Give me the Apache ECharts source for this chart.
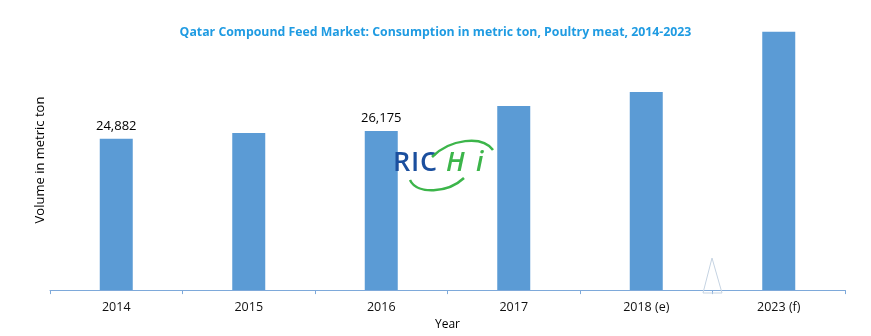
<!DOCTYPE html>
<html>
<head>
<meta charset="utf-8">
<script src="https://cdn.jsdelivr.net/npm/echarts@6/dist/echarts.min.js"></script>
<style>html,body{margin:0;padding:0;background:#fff}#c{width:871px;height:336px}</style>
</head>
<body>
<div id="c"></div>
<script>
const categories = ['2014', '2015', '2016', '2017', '2018 (e)', '2023 (f)'];
const values = [24882, 25820, 26175, 30260, 32590, 42465];
const shownLabels = ['24,882', '', '26,175', '', '', ''];

const chart = echarts.init(document.getElementById('c'));
const font = "'Open Sans', 'Liberation Sans', sans-serif";
const logoFont = "600 27px 'Open Sans'";
const logoFontI = "italic 600 27px 'Open Sans'";
chart.setOption({
  animation: false,
  title: {
    text: 'Qatar Compound Feed Market: Consumption in metric ton, Poultry meat, 2014-2023',
    left: 'center', top: 21,
    textStyle: { color: '#1f9be2', fontSize: 12.3, fontWeight: 'bold', fontFamily: font }
  },
  grid: { left: 50, right: 26, top: 16.4, bottom: 43 },
  xAxis: {
    type: 'category', data: categories,
    name: 'Year', nameLocation: 'middle', nameGap: 24,
    nameTextStyle: { color: '#000', fontSize: 12, fontFamily: font },
    axisLine: { lineStyle: { color: '#7ea9da', width: 1 } },
    axisTick: { show: true, length: 4, lineStyle: { color: '#7ea9da' } },
    axisLabel: { color: '#111', fontSize: 12.5, fontFamily: font, margin: 11 }
  },
  yAxis: {
    type: 'value', min: 0, max: 45000,
    axisLine: { show: false }, axisTick: { show: false },
    axisLabel: { show: false }, splitLine: { show: false }
  },
  series: [{
    type: 'bar', data: values, barWidth: 33,
    itemStyle: { color: '#5b9bd5' },
    label: {
      show: true, position: 'top', distance: 6,
      color: '#000', fontSize: 13, fontFamily: font,
      formatter: p => shownLabels[p.dataIndex]
    }
  }],
  graphic: [
    { type: 'text', x: 40, y: 160, rotation: Math.PI / 2,
      style: { text: 'Volume in metric ton', font: "13px 'Open Sans'", fill: '#000', align: 'center', verticalAlign: 'middle' } },
    { type: 'polygon', shape: { points: [[712, 258], [703, 293], [722, 293]] },
      style: { fill: 'none', stroke: '#c5d3e2', lineWidth: 1 }, z: 10 },
    { type: 'text', x: 393, y: 150, style: { text: 'R', font: logoFont, fill: '#1b4f9e' }, z: 20 },
    { type: 'text', x: 411, y: 150, style: { text: 'I', font: logoFont, fill: '#1b4f9e' }, z: 20 },
    { type: 'text', x: 420, y: 150, style: { text: 'C', font: logoFont, fill: '#1b4f9e' }, z: 20 },
    { type: 'text', x: 446, y: 150, style: { text: 'H', font: logoFontI, fill: '#3cb54a' }, z: 20 },
    { type: 'text', x: 476, y: 150, style: { text: 'i', font: logoFontI, fill: '#3cb54a' }, z: 20 },
    { type: 'bezierCurve', shape: { x1: 432, y1: 157, cpx1: 450, cpy1: 139, x2: 493, y2: 150, cpx2: 482, cpy2: 135 },
      style: { stroke: '#3cb54a', lineWidth: 2.5, fill: 'none' }, z: 20 },
    { type: 'bezierCurve', shape: { x1: 410, y1: 180, cpx1: 417, cpy1: 195, x2: 464, y2: 178, cpx2: 448, cpy2: 193 },
      style: { stroke: '#3cb54a', lineWidth: 2.5, fill: 'none' }, z: 20 }
  ]
});
</script>
</body>
</html>
